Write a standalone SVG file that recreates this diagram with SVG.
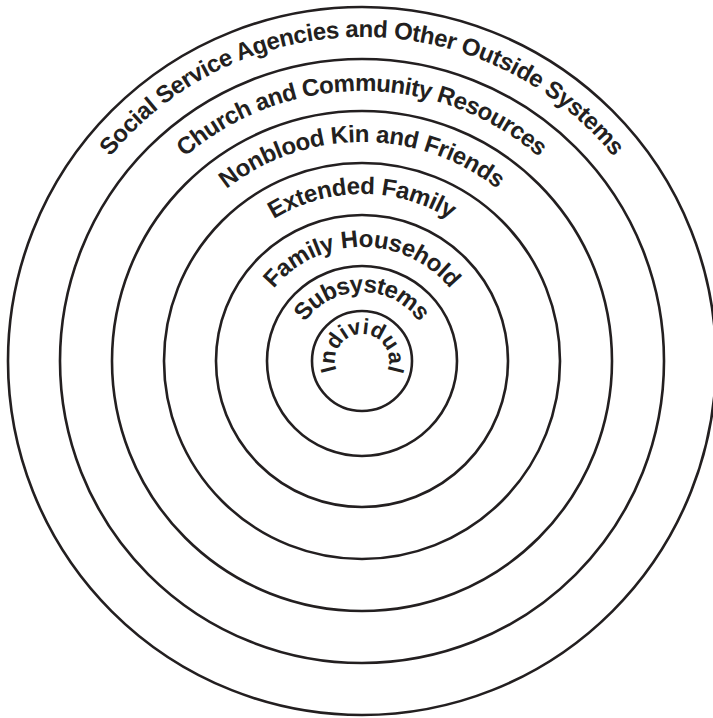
<svg xmlns="http://www.w3.org/2000/svg" xmlns:xlink="http://www.w3.org/1999/xlink" width="713" height="718" viewBox="0 0 713 718">
<style>
.ring{fill:none;stroke:#231f20;stroke-width:2.6}
.lbl{font-family:"Liberation Sans",Arial,Helvetica,sans-serif;font-weight:bold;font-size:24px;fill:#231f20}
</style>
<defs>
<path id="pSocial" d="M200,641.6 A324,324 0 1 1 524,641.6"/>
<path id="pChurch" d="M227,594.8 A270,270 0 1 1 497,594.8"/>
<path id="pNonblood" d="M252.5,550.7 A219,219 0 1 1 471.5,550.7"/>
<path id="pExtended" d="M278.5,505.6 A167,167 0 1 1 445.5,505.6"/>
<path id="pHousehold" d="M305,459.7 A114,114 0 1 1 419,459.7"/>
<path id="pSub" d="M327.5,420.8 A69,69 0 1 1 396.5,420.8"/>
<path id="pInd" d="M348.5,384.4 A27,27 0 1 1 375.5,384.4"/>
</defs>
<rect width="713" height="718" fill="#ffffff"/>
<g id="social">
<circle class="ring" cx="362" cy="361" r="354"/>
<text class="lbl" text-anchor="middle"><textPath href="#pSocial" startOffset="50%" textLength="576" lengthAdjust="spacing">Social Service Agencies and Other Outside Systems</textPath></text>
</g>
<g id="church">
<circle class="ring" cx="362" cy="361" r="302"/>
<text class="lbl" text-anchor="middle"><textPath href="#pChurch" startOffset="50%" textLength="386" lengthAdjust="spacing">Church and Community Resources</textPath></text>
</g>
<g id="nonblood">
<circle class="ring" cx="362" cy="361" r="250"/>
<text class="lbl" text-anchor="middle"><textPath href="#pNonblood" startOffset="50%" textLength="292" lengthAdjust="spacing">Nonblood Kin and Friends</textPath></text>
</g>
<g id="extended">
<circle class="ring" cx="362" cy="361" r="198"/>
<text class="lbl" text-anchor="middle"><textPath href="#pExtended" startOffset="50%" textLength="186" lengthAdjust="spacing">Extended Family</textPath></text>
</g>
<g id="household">
<circle class="ring" cx="362" cy="361" r="146"/>
<text class="lbl" text-anchor="middle"><textPath href="#pHousehold" startOffset="50%" textLength="202" lengthAdjust="spacing">Family Household</textPath></text>
</g>
<g id="subsystems">
<circle class="ring" cx="362" cy="361" r="95"/>
<text class="lbl" text-anchor="middle"><textPath href="#pSub" startOffset="50%" textLength="134" lengthAdjust="spacing">Subsystems</textPath></text>
</g>
<g id="individual">
<circle class="ring" cx="362" cy="361" r="50"/>
<text class="lbl" text-anchor="middle" style="font-size:22px"><textPath href="#pInd" startOffset="50%" textLength="104" lengthAdjust="spacing">Individual</textPath></text>
</g>
<g id="connectors"/>
</svg>
